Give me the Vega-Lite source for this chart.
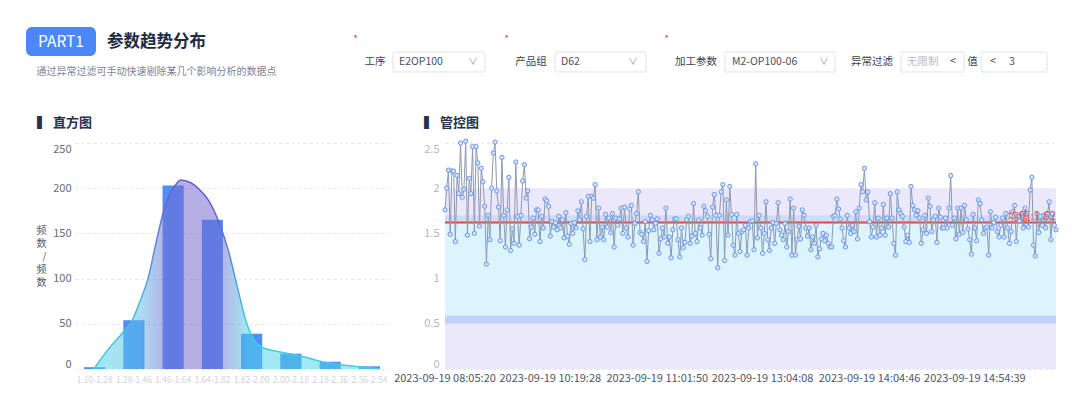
{
"$schema":"https://vega.github.io/schema/vega-lite/v6.json",
"background":"#ffffff",
"padding":{"left":26,"top":21,"right":5,"bottom":4},
"autosize":{"type":"pad"},
"config":{"font":"Noto Sans CJK SC","view":{"stroke":null},"title":{"font":"Noto Sans CJK SC"},"axis":{"labelFont":"Noto Sans CJK SC","titleFont":"Noto Sans CJK SC"}},
"datasets":{
"curve":[{"u":0.48,"c":0},{"u":0.87,"c":23},{"u":1.17,"c":38},{"u":1.46,"c":54},{"u":1.63,"c":72},{"u":1.89,"c":105},{"u":2.06,"c":139},{"u":2.31,"c":182},{"u":2.57,"c":204},{"u":2.69,"c":209},{"u":2.95,"c":206},{"u":3.16,"c":199},{"u":3.41,"c":186},{"u":3.67,"c":162},{"u":3.92,"c":129},{"u":4.14,"c":90},{"u":4.35,"c":54},{"u":4.56,"c":32},{"u":4.77,"c":24},{"u":5.11,"c":20},{"u":5.45,"c":17},{"u":5.88,"c":13},{"u":6.22,"c":9},{"u":6.73,"c":5},{"u":7.24,"c":2.5},{"u":7.75,"c":0.3}],
"ticks":[{"n":0,"t":"2023-09-19 08:05:20"},{"n":61,"t":"2023-09-19 10:19:28"},{"n":123,"t":"2023-09-19 11:01:50"},{"n":184,"t":"2023-09-19 13:04:08"},{"n":246,"t":"2023-09-19 14:04:46"},{"n":307,"t":"2023-09-19 14:54:39"}],
"pts":[
{"n":0,"v":1.76},{"n":1,"v":2.0},{"n":2,"v":2.2},{"n":3,"v":1.49},{"n":4,"v":2.19},{"n":5,"v":2.19},{"n":6,"v":1.41},{"n":7,"v":2.14},{"n":8,"v":1.94},{"n":9,"v":2.5},
{"n":10,"v":1.9},{"n":11,"v":1.99},{"n":12,"v":2.52},{"n":13,"v":1.48},{"n":14,"v":2.11},{"n":15,"v":1.94},{"n":16,"v":2.46},{"n":17,"v":1.5},{"n":18,"v":2.46},{"n":19,"v":2.28},
{"n":20,"v":1.58},{"n":21,"v":2.22},{"n":22,"v":2.07},{"n":23,"v":1.8},{"n":24,"v":1.16},{"n":25,"v":1.7},{"n":26,"v":1.43},{"n":27,"v":2.0},{"n":28,"v":2.39},{"n":29,"v":2.51},
{"n":30,"v":1.97},{"n":31,"v":1.79},{"n":32,"v":1.42},{"n":33,"v":2.34},{"n":34,"v":1.7},{"n":35,"v":1.35},{"n":36,"v":1.76},{"n":37,"v":2.12},{"n":38,"v":1.31},{"n":39,"v":1.55},
{"n":40,"v":1.39},{"n":41,"v":2.29},{"n":42,"v":1.69},{"n":43,"v":1.37},{"n":44,"v":1.7},{"n":45,"v":2.08},{"n":46,"v":2.26},{"n":47,"v":1.89},{"n":48,"v":1.97},{"n":49,"v":1.44},
{"n":50,"v":1.57},{"n":51,"v":1.67},{"n":52,"v":1.49},{"n":53,"v":1.76},{"n":54,"v":1.76},{"n":55,"v":1.41},{"n":56,"v":1.69},{"n":57,"v":1.56},{"n":58,"v":1.88},{"n":59,"v":1.86},
{"n":60,"v":1.8},{"n":61,"v":1.47},{"n":62,"v":1.63},{"n":63,"v":1.57},{"n":64,"v":1.62},{"n":65,"v":1.54},{"n":66,"v":1.69},{"n":67,"v":1.56},{"n":68,"v":1.65},{"n":69,"v":1.45},
{"n":70,"v":1.73},{"n":71,"v":1.47},{"n":72,"v":1.38},{"n":73,"v":1.61},{"n":74,"v":1.5},{"n":75,"v":1.62},{"n":76,"v":1.56},{"n":77,"v":1.75},{"n":78,"v":1.65},{"n":79,"v":1.85},
{"n":80,"v":1.55},{"n":81,"v":1.21},{"n":82,"v":1.69},{"n":83,"v":1.91},{"n":84,"v":1.41},{"n":85,"v":1.91},{"n":86,"v":1.89},{"n":87,"v":2.04},{"n":88,"v":1.43},{"n":89,"v":1.78},
{"n":90,"v":1.46},{"n":91,"v":1.57},{"n":92,"v":1.43},{"n":93,"v":1.71},{"n":94,"v":1.57},{"n":95,"v":1.67},{"n":96,"v":1.51},{"n":97,"v":1.72},{"n":98,"v":1.35},{"n":99,"v":1.67},
{"n":100,"v":1.59},{"n":101,"v":1.66},{"n":102,"v":1.78},{"n":103,"v":1.5},{"n":104,"v":1.79},{"n":105,"v":1.56},{"n":106,"v":1.46},{"n":107,"v":1.77},{"n":108,"v":1.81},{"n":109,"v":1.37},
{"n":110,"v":1.61},{"n":111,"v":1.72},{"n":112,"v":1.96},{"n":113,"v":1.51},{"n":114,"v":1.49},{"n":115,"v":1.41},{"n":116,"v":1.63},{"n":117,"v":1.19},{"n":118,"v":1.53},{"n":119,"v":1.7},
{"n":120,"v":1.65},{"n":121,"v":1.54},{"n":122,"v":1.61},{"n":123,"v":1.66},{"n":124,"v":1.28},{"n":125,"v":1.44},{"n":126,"v":1.56},{"n":127,"v":1.46},{"n":128,"v":1.78},{"n":129,"v":1.39},
{"n":130,"v":1.46},{"n":131,"v":1.23},{"n":132,"v":1.54},{"n":133,"v":1.66},{"n":134,"v":1.66},{"n":135,"v":1.43},{"n":136,"v":1.24},{"n":137,"v":1.56},{"n":138,"v":1.34},{"n":139,"v":1.4},
{"n":140,"v":1.65},{"n":141,"v":1.69},{"n":142,"v":1.39},{"n":143,"v":1.47},{"n":144,"v":1.83},{"n":145,"v":1.5},{"n":146,"v":1.41},{"n":147,"v":1.65},{"n":148,"v":1.56},{"n":149,"v":1.48},
{"n":150,"v":1.8},{"n":151,"v":1.75},{"n":152,"v":1.69},{"n":153,"v":1.49},{"n":154,"v":1.22},{"n":155,"v":1.79},{"n":156,"v":1.93},{"n":157,"v":1.7},{"n":158,"v":1.12},{"n":159,"v":1.7},
{"n":160,"v":1.96},{"n":161,"v":2.04},{"n":162,"v":1.2},{"n":163,"v":1.87},{"n":164,"v":1.48},{"n":165,"v":2.02},{"n":166,"v":1.71},{"n":167,"v":1.37},{"n":168,"v":1.26},{"n":169,"v":1.71},
{"n":170,"v":1.5},{"n":171,"v":1.3},{"n":172,"v":1.52},{"n":173,"v":1.54},{"n":174,"v":1.59},{"n":175,"v":1.26},{"n":176,"v":1.56},{"n":177,"v":1.63},{"n":178,"v":1.64},{"n":179,"v":1.32},
{"n":180,"v":2.27},{"n":181,"v":1.45},{"n":182,"v":1.7},{"n":183,"v":1.56},{"n":184,"v":1.28},{"n":185,"v":1.5},{"n":186,"v":1.85},{"n":187,"v":1.43},{"n":188,"v":1.31},{"n":189,"v":1.56},
{"n":190,"v":1.62},{"n":191,"v":1.39},{"n":192,"v":1.61},{"n":193,"v":1.84},{"n":194,"v":1.54},{"n":195,"v":1.48},{"n":196,"v":1.43},{"n":197,"v":1.61},{"n":198,"v":1.35},{"n":199,"v":1.52},
{"n":200,"v":1.88},{"n":201,"v":1.26},{"n":202,"v":1.78},{"n":203,"v":1.26},{"n":204,"v":1.43},{"n":205,"v":1.58},{"n":206,"v":1.44},{"n":207,"v":1.76},{"n":208,"v":1.7},{"n":209,"v":1.56},
{"n":210,"v":1.47},{"n":211,"v":1.56},{"n":212,"v":1.32},{"n":213,"v":1.46},{"n":214,"v":1.39},{"n":215,"v":1.59},{"n":216,"v":1.24},{"n":217,"v":1.33},{"n":218,"v":1.44},{"n":219,"v":1.5},
{"n":220,"v":1.42},{"n":221,"v":1.48},{"n":222,"v":1.39},{"n":223,"v":1.35},{"n":224,"v":1.35},{"n":225,"v":1.69},{"n":226,"v":1.7},{"n":227,"v":1.88},{"n":228,"v":1.77},{"n":229,"v":1.66},
{"n":230,"v":1.56},{"n":231,"v":1.42},{"n":232,"v":1.35},{"n":233,"v":1.7},{"n":234,"v":1.56},{"n":235,"v":1.5},{"n":236,"v":1.59},{"n":237,"v":1.52},{"n":238,"v":1.74},{"n":239,"v":1.44},
{"n":240,"v":1.78},{"n":241,"v":2.04},{"n":242,"v":1.96},{"n":243,"v":2.22},{"n":244,"v":1.87},{"n":245,"v":1.96},{"n":246,"v":1.63},{"n":247,"v":1.46},{"n":248,"v":1.57},{"n":249,"v":1.84},
{"n":250,"v":1.46},{"n":251,"v":1.67},{"n":252,"v":1.48},{"n":253,"v":1.56},{"n":254,"v":1.82},{"n":255,"v":1.48},{"n":256,"v":1.67},{"n":257,"v":1.57},{"n":258,"v":1.94},{"n":259,"v":1.67},
{"n":260,"v":1.39},{"n":261,"v":1.26},{"n":262,"v":1.96},{"n":263,"v":1.76},{"n":264,"v":1.72},{"n":265,"v":1.69},{"n":266,"v":1.57},{"n":267,"v":1.41},{"n":268,"v":1.48},{"n":269,"v":1.4},
{"n":270,"v":2.02},{"n":271,"v":1.81},{"n":272,"v":1.76},{"n":273,"v":1.7},{"n":274,"v":1.75},{"n":275,"v":1.67},{"n":276,"v":1.39},{"n":277,"v":1.54},{"n":278,"v":1.7},{"n":279,"v":1.5},
{"n":280,"v":1.89},{"n":281,"v":1.8},{"n":282,"v":1.52},{"n":283,"v":1.65},{"n":284,"v":1.69},{"n":285,"v":1.4},{"n":286,"v":1.78},{"n":287,"v":1.68},{"n":288,"v":1.56},{"n":289,"v":1.56},
{"n":290,"v":1.67},{"n":291,"v":1.56},{"n":292,"v":1.78},{"n":293,"v":2.14},{"n":294,"v":1.59},{"n":295,"v":1.67},{"n":296,"v":1.44},{"n":297,"v":1.78},{"n":298,"v":1.49},{"n":299,"v":1.78},
{"n":300,"v":1.51},{"n":301,"v":1.81},{"n":302,"v":1.65},{"n":303,"v":1.55},{"n":304,"v":1.43},{"n":305,"v":1.27},{"n":306,"v":1.71},{"n":307,"v":1.56},{"n":308,"v":1.42},{"n":309,"v":1.87},
{"n":310,"v":1.83},{"n":311,"v":1.65},{"n":312,"v":1.5},{"n":313,"v":1.56},{"n":314,"v":1.57},{"n":315,"v":1.26},{"n":316,"v":1.74},{"n":317,"v":1.56},{"n":318,"v":1.62},{"n":319,"v":1.68},
{"n":320,"v":1.52},{"n":321,"v":1.46},{"n":322,"v":1.59},{"n":323,"v":1.67},{"n":324,"v":1.46},{"n":325,"v":1.72},{"n":326,"v":1.56},{"n":327,"v":1.39},{"n":328,"v":1.52},{"n":329,"v":1.74},
{"n":330,"v":1.81},{"n":331,"v":1.41},{"n":332,"v":1.69},{"n":333,"v":1.64},{"n":334,"v":1.72},{"n":335,"v":1.56},{"n":336,"v":1.78},{"n":337,"v":1.59},{"n":338,"v":1.57},{"n":339,"v":1.98},
{"n":340,"v":2.12},{"n":341,"v":1.37},{"n":342,"v":1.25},{"n":343,"v":1.72},{"n":344,"v":1.51},{"n":345,"v":1.69},{"n":346,"v":1.59},{"n":347,"v":1.7},{"n":348,"v":1.56},{"n":349,"v":1.71},
{"n":350,"v":1.85},{"n":351,"v":1.43},{"n":352,"v":1.72},{"n":353,"v":1.59},{"n":354,"v":1.54}
]
},
"spacing":39,
"vconcat":[
{"spacing":66,"hconcat":[
  {"spacing":10,"vconcat":[
    {"bounds":"flush","spacing":0,"hconcat":[
      {"width":70,"height":29,"data":{"values":[{"tag":"PART1"}]},"layer":[
        {"mark":{"type":"rect","color":"#4b87f7","cornerRadius":6},"encoding":{}},
        {"mark":{"type":"text","color":"#ffffff","fontSize":15.5},"encoding":{"text":{"field":"tag"}}}
      ]},
      {"width":121,"height":29,"data":{"values":[{"t":"参数趋势分布"}]},"mark":{"type":"text","fontSize":16.5,"fontWeight":"bold","color":"#1f2a44"},"encoding":{"text":{"field":"t"}}}
    ]},
    {"width":261,"height":12,"data":{"values":[{"t":"通过异常过滤可手动快速剔除某几个影响分析的数据点"}]},"mark":{"type":"text","fontSize":10,"color":"#7c8497"},"encoding":{"text":{"field":"t"}}}
  ]},
  {"spacing":1,"vconcat":[
    {"width":1,"height":1,"data":{"values":[{"s":""}]},"mark":"text","encoding":{"text":{"field":"s"}}},
    {"bounds":"flush","spacing":0,"hconcat":[
      {"width":36,"height":20,"title":{"text":"*","anchor":"start","frame":"group","color":"#e25b5b","fontSize":11,"fontWeight":"normal","dx":-4,"offset":7},"data":{"values":[{"t":"工序"}]},"mark":{"type":"text","fontSize":10.5,"color":"#3b4256"},"encoding":{"text":{"field":"t"}}},
      {"width":92,"height":20,"data":{"values":[{"part":"v","label":"E2OP100"},{"part":"i","label":"∨"}]},"layer":[
        {"transform":[{"filter":"datum.part==='v'"}],"mark":{"type":"rect","fill":"#ffffff","stroke":"#dde1e9","strokeWidth":1,"cornerRadius":2},"encoding":{}},
        {"transform":[{"filter":"datum.part==='v'"}],"mark":{"type":"text","align":"left","fontSize":10.5,"color":"#4a5163"},"encoding":{"x":{"field":"part","type":"nominal","scale":{"type":"point","domain":["v","i"],"range":[6,80],"padding":0},"axis":null},"text":{"field":"label"}}},
        {"transform":[{"filter":"datum.part==='i'"}],"mark":{"type":"text","align":"center","fontSize":9,"color":"#8d93a0"},"encoding":{"x":{"field":"part","type":"nominal","scale":{"type":"point","domain":["v","i"],"range":[6,80],"padding":0},"axis":null},"text":{"field":"label"}}}
      ]},
      {"width":22,"height":20,"data":{"values":[{"s":""}]},"mark":"text","encoding":{"text":{"field":"s"}}},
      {"width":48,"height":20,"title":{"text":"*","anchor":"start","frame":"group","color":"#e25b5b","fontSize":11,"fontWeight":"normal","dx":-3,"offset":7},"data":{"values":[{"t":"产品组"}]},"mark":{"type":"text","fontSize":10.5,"color":"#3b4256"},"encoding":{"text":{"field":"t"}}},
      {"width":91,"height":20,"data":{"values":[{"part":"v","label":"D62"},{"part":"i","label":"∨"}]},"layer":[
        {"transform":[{"filter":"datum.part==='v'"}],"mark":{"type":"rect","fill":"#ffffff","stroke":"#dde1e9","strokeWidth":1,"cornerRadius":2},"encoding":{}},
        {"transform":[{"filter":"datum.part==='v'"}],"mark":{"type":"text","align":"left","fontSize":10.5,"color":"#4a5163"},"encoding":{"x":{"field":"part","type":"nominal","scale":{"type":"point","domain":["v","i"],"range":[6,78],"padding":0},"axis":null},"text":{"field":"label"}}},
        {"transform":[{"filter":"datum.part==='i'"}],"mark":{"type":"text","align":"center","fontSize":9,"color":"#8d93a0"},"encoding":{"x":{"field":"part","type":"nominal","scale":{"type":"point","domain":["v","i"],"range":[6,78],"padding":0},"axis":null},"text":{"field":"label"}}}
      ]},
      {"width":21,"height":20,"data":{"values":[{"s":""}]},"mark":"text","encoding":{"text":{"field":"s"}}},
      {"width":58,"height":20,"title":{"text":"*","anchor":"start","frame":"group","color":"#e25b5b","fontSize":11,"fontWeight":"normal","dx":-3,"offset":7},"data":{"values":[{"t":"加工参数"}]},"mark":{"type":"text","fontSize":10.5,"color":"#3b4256"},"encoding":{"text":{"field":"t"}}},
      {"width":110,"height":20,"data":{"values":[{"part":"v","label":"M2-OP100-06"},{"part":"i","label":"∨"}]},"layer":[
        {"transform":[{"filter":"datum.part==='v'"}],"mark":{"type":"rect","fill":"#ffffff","stroke":"#dde1e9","strokeWidth":1,"cornerRadius":2},"encoding":{}},
        {"transform":[{"filter":"datum.part==='v'"}],"mark":{"type":"text","align":"left","fontSize":10.5,"color":"#4a5163"},"encoding":{"x":{"field":"part","type":"nominal","scale":{"type":"point","domain":["v","i"],"range":[7,99],"padding":0},"axis":null},"text":{"field":"label"}}},
        {"transform":[{"filter":"datum.part==='i'"}],"mark":{"type":"text","align":"center","fontSize":9,"color":"#8d93a0"},"encoding":{"x":{"field":"part","type":"nominal","scale":{"type":"point","domain":["v","i"],"range":[7,99],"padding":0},"axis":null},"text":{"field":"label"}}}
      ]},
      {"width":8,"height":20,"data":{"values":[{"s":""}]},"mark":"text","encoding":{"text":{"field":"s"}}},
      {"width":58,"height":20,"data":{"values":[{"t":"异常过滤"}]},"mark":{"type":"text","fontSize":10.5,"color":"#3b4256"},"encoding":{"text":{"field":"t"}}},
      {"width":63,"height":20,"data":{"values":[{"part":"v","label":"无限制"},{"part":"i","label":"<"}]},"layer":[
        {"transform":[{"filter":"datum.part==='v'"}],"mark":{"type":"rect","fill":"#ffffff","stroke":"#dde1e9","strokeWidth":1,"cornerRadius":2},"encoding":{}},
        {"transform":[{"filter":"datum.part==='v'"}],"mark":{"type":"text","align":"left","fontSize":10.5,"color":"#b8bdc7"},"encoding":{"x":{"field":"part","type":"nominal","scale":{"type":"point","domain":["v","i"],"range":[6,52],"padding":0},"axis":null},"text":{"field":"label"}}},
        {"transform":[{"filter":"datum.part==='i'"}],"mark":{"type":"text","align":"center","fontSize":11,"color":"#4a5163"},"encoding":{"x":{"field":"part","type":"nominal","scale":{"type":"point","domain":["v","i"],"range":[6,52],"padding":0},"axis":null},"text":{"field":"label"}}}
      ]},
      {"width":17,"height":20,"data":{"values":[{"t":"值"}]},"mark":{"type":"text","fontSize":10.5,"color":"#3b4256"},"encoding":{"text":{"field":"t"}}},
      {"width":66,"height":20,"data":{"values":[{"part":"v","label":"3"},{"part":"i","label":"<"}]},"layer":[
        {"transform":[{"filter":"datum.part==='v'"}],"mark":{"type":"rect","fill":"#ffffff","stroke":"#dde1e9","strokeWidth":1,"cornerRadius":2},"encoding":{}},
        {"transform":[{"filter":"datum.part==='v'"}],"mark":{"type":"text","align":"left","fontSize":10.5,"color":"#4a5163"},"encoding":{"x":{"field":"part","type":"nominal","scale":{"type":"point","domain":["i","v"],"range":[12,28],"padding":0},"axis":null},"text":{"field":"label"}}},
        {"transform":[{"filter":"datum.part==='i'"}],"mark":{"type":"text","align":"center","fontSize":11,"color":"#4a5163"},"encoding":{"x":{"field":"part","type":"nominal","scale":{"type":"point","domain":["i","v"],"range":[12,28],"padding":0},"axis":null},"text":{"field":"label"}}}
      ]}
    ]}
  ]}
]},
{"spacing":9,"hconcat":[
  {"width":1,"height":1,"data":{"values":[{"s":""}]},"mark":"text","encoding":{"text":{"field":"s"}}},
  {"bounds":"flush","spacing":56,"hconcat":[
    {"width":314,"height":226,
     "title":{"text":"▍ 直方图","anchor":"start","frame":"group","dx":-38,"offset":13,"fontSize":13,"fontWeight":"bold","color":"#27314a"},
     "layer":[
      {"data":{"values":[{"bin":"1.10-1.28","count":2},{"bin":"1.28-1.46","count":54},{"bin":"1.46-1.64","count":203},{"bin":"1.64-1.82","count":165},{"bin":"1.82-2.00","count":39},{"bin":"2.00-2.18","count":17},{"bin":"2.18-2.36","count":8},{"bin":"2.36-2.54","count":3}]},
       "mark":{"type":"bar","color":"#4f8ef5"},
       "encoding":{
        "x":{"field":"bin","type":"ordinal","sort":null,"scale":{"paddingInner":0.46,"paddingOuter":0.23},"axis":{"title":null,"labelAngle":0,"labelColor":"#cfd3db","labelFontSize":8.5,"labelPadding":6,"ticks":false,"domain":false}},
        "y":{"field":"count","type":"quantitative","scale":{"domain":[0,250],"nice":false},"axis":{"values":[0,50,100,150,200,250],"labelFlush":true,"title":["频","数","/","频","数"],"titleAngle":0,"titleAlign":"right","titleBaseline":"middle","titleX":-29,"titleY":87,"titleFontSize":10,"titleFontWeight":"normal","titleColor":"#555b66","titleLineHeight":13,"labelColor":"#666c78","labelFontSize":11,"labelPadding":4,"ticks":false,"domain":false,"grid":true,"gridDash":[3,3],"gridColor":"#e3e6ec"}}
       }},
      {"data":{"name":"curve"},
       "mark":{"type":"area","interpolate":"monotone","fillOpacity":0.53,"fill":{"gradient":"linear","x1":0,"y1":0,"x2":1,"y2":0,"stops":[{"offset":0,"color":"#4fd3e6"},{"offset":0.16,"color":"#5fbfe6"},{"offset":0.26,"color":"#7368d0"},{"offset":0.44,"color":"#7368d0"},{"offset":0.54,"color":"#4fd3e6"},{"offset":1,"color":"#4fd3e6"}]}},
       "encoding":{"x":{"field":"u","type":"quantitative","scale":{"domain":[0,8],"nice":false,"zero":false},"axis":null},"y":{"field":"c","type":"quantitative"}}},
      {"data":{"name":"curve"},
       "mark":{"type":"line","interpolate":"monotone","strokeWidth":1.5,"stroke":{"gradient":"linear","x1":0,"y1":0,"x2":1,"y2":0,"stops":[{"offset":0,"color":"#3ecfe3"},{"offset":0.16,"color":"#4fb8e6"},{"offset":0.26,"color":"#6a60cf"},{"offset":0.44,"color":"#6a60cf"},{"offset":0.54,"color":"#3ecfe3"},{"offset":1,"color":"#3ecfe3"}]}},
       "encoding":{"x":{"field":"u","type":"quantitative","scale":{"domain":[0,8],"nice":false,"zero":false},"axis":null},"y":{"field":"c","type":"quantitative"}}}
     ],
     "resolve":{"scale":{"x":"independent"}}
    },
    {"width":611,"height":226,
     "title":{"text":"▍ 管控图","anchor":"start","frame":"group","dx":-21,"offset":7,"fontSize":13,"fontWeight":"bold","color":"#27314a"},
     "layer":[
      {"data":{"values":[{"zone":"spec","lo":0,"hi":2.0},{"zone":"ctrl","lo":0.59,"hi":1.61},{"zone":"ucl","lo":1.61,"hi":1.7},{"zone":"lcl","lo":0.5,"hi":0.59}]},
       "mark":{"type":"rect"},
       "encoding":{
        "y":{"field":"lo","type":"quantitative","scale":{"domain":[0,2.5],"nice":false},"axis":{"values":[0,0.5,1,1.5,2,2.5],"labelFlush":true,"format":"~g","title":null,"labelColor":"#b3b8c2","labelFontSize":11,"labelPadding":6,"ticks":false,"domain":false,"grid":true,"gridDash":[3,3],"gridColor":"#e3e6ec"}},
        "y2":{"field":"hi"},
        "color":{"field":"zone","type":"nominal","scale":{"domain":["spec","ctrl","ucl","lcl"],"range":["#ece8fc","#dcf4fe","#d0dbfb","#c3d2fb"]},"legend":null}
       }},
      {"data":{"values":[{"mean":1.62}]},"mark":{"type":"rule","color":"#e4483e","strokeWidth":2},"encoding":{"y":{"field":"mean","type":"quantitative"}}},
      {"data":{"name":"pts"},"mark":{"type":"line","color":"#8e99ad","strokeWidth":1},"encoding":{"x":{"field":"n","type":"quantitative","scale":{"domain":[0,354],"nice":false,"zero":false},"axis":null},"y":{"field":"v","type":"quantitative"}}},
      {"data":{"name":"pts"},"mark":{"type":"point","filled":true,"fill":"#d9e5fd","stroke":"#6596f2","strokeWidth":1,"size":18,"opacity":1},"encoding":{"x":{"field":"n","type":"quantitative"},"y":{"field":"v","type":"quantitative"}}},
      {"data":{"values":[{"n":354,"mean":1.62,"label":"均值:1.62"}]},"mark":{"type":"text","align":"right","baseline":"bottom","dy":-1,"fontSize":11.5,"color":"#e4554b"},"encoding":{"x":{"field":"n","type":"quantitative"},"y":{"field":"mean","type":"quantitative"},"text":{"field":"label"}}},
      {"data":{"name":"ticks"},"mark":{"type":"text","baseline":"top","dy":4,"fontSize":11,"color":"#4f5669"},"encoding":{"x":{"field":"n","type":"quantitative"},"y":{"datum":0,"type":"quantitative"},"text":{"field":"t"}}}
     ]
    }
  ]}
]}
]
}
